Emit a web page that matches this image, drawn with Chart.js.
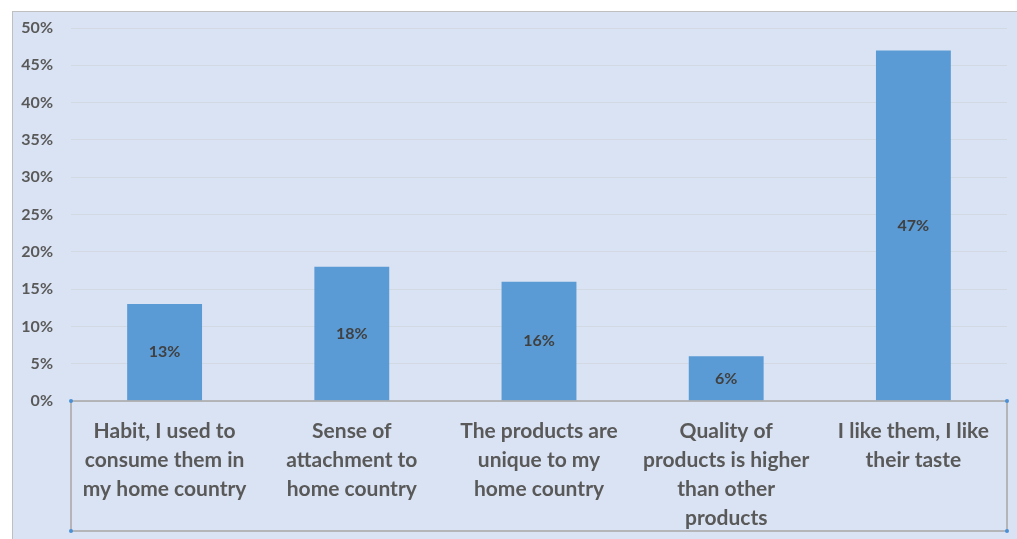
<!DOCTYPE html>
<html>
<head>
<meta charset="utf-8">
<script src="https://cdn.jsdelivr.net/npm/chart.js@4"></script>
<style>
  body { margin:0; background:#ffffff; }
  #frame {
    position:absolute; left:12px; top:11px; width:1005px; height:528px;
    background:#dae3f3; border-left:1px solid #bfbfbf; border-top:1px solid #bfbfbf;
    box-sizing:border-box;
  }
</style>
</head>
<body>
<div id="frame"><canvas id="c" width="1004" height="527"></canvas></div>
<script>
// categories and values
let categories = [
  ["Habit, I used to", "consume them in", "my home country"],
  ["Sense of", "attachment to", "home country"],
  ["The products are", "unique to my", "home country"],
  ["Quality of", "products is higher", "than other", "products"],
  ["I like them, I like", "their taste"]
];

let values = [13, 18, 16, 6, 47];

let yTicks = [0, 5, 10, 15, 20, 25, 30, 35, 40, 45, 50];


let labelFont = "Lato, 'Open Sans', sans-serif";


// value labels in the middle of each bar
let barLabels = {
  id: "barLabels",
  afterDatasetsDraw(chart){
    let ctx = chart.ctx;
    let meta = chart.getDatasetMeta(0);
    ctx.save();
    ctx.font = "bold 16px " + labelFont;
    ctx.fillStyle = "#404040";
    ctx.textAlign = "center";
    ctx.textBaseline = "middle";
    meta.data.forEach((bar, i) => {
      let mid = (bar.y + bar.base) / 2;
      ctx.fillText(values[i] + "%", bar.x, mid);
    });
    ctx.restore();
  }
};


// selected category-axis box like in the original
let axisBox = {
  id: "axisBox",
  afterDraw(chart){
    let ctx = chart.ctx;
    let x = chart.scales.x;
    let left = chart.chartArea.left;
    let right = chart.chartArea.right;
    let top = x.top;
    let bottom = x.bottom;
    ctx.save();
    ctx.strokeStyle = "#a6a6a6";
    ctx.lineWidth = 1.5;
    ctx.strokeRect(left, top, right - left, bottom - top);
    ctx.fillStyle = "#4a90d9";
    [[left, top], [right, top], [left, bottom], [right, bottom]].forEach(p => {
      ctx.beginPath();
      ctx.arc(p[0], p[1], 2, 0, Math.PI * 2);
      ctx.fill();
    });
    ctx.restore();
  }
};


new Chart(
  document.getElementById("c"),
  {
    type: "bar",
    data: {
      labels: categories,
      datasets: [{
        data: values,
        backgroundColor: "#5b9bd5",
        barPercentage: 0.4,
        categoryPercentage: 1
      }]
    },
    options: {
      responsive: false,
      animation: false,
      layout: { padding: { top: 16, right: 10, bottom: 8, left: 0 } },
      plugins: {
        legend: { display: false },
        tooltip: { enabled: false }
      },
      scales: {
        y: {
          min: 0,
          max: 50,
          afterBuildTicks(scale){
            scale.ticks = yTicks.map(v => ({ value: v }));
          },
          afterFit(scale){
            scale.width = 58;
            scale.paddingTop = 0;
            scale.paddingBottom = 0;
          },
          border: { display: false },
          grid: { color: "#d3d9e3", drawTicks: false },
          ticks: {
            padding: 18,
            color: "#595959",
            font: { family: labelFont, size: 16, weight: "bold" },
            callback: v => v + "%"
          }
        },
        x: {
          afterFit(scale){ scale.height = 130; },
          border: { display: false },
          grid: { display: false },
          ticks: {
            padding: 8,
            maxRotation: 0,
            autoSkip: false,
            color: "#595959",
            font: { family: labelFont, size: 21, weight: "bold", lineHeight: 1.38 }
          }
        }
      }
    },
    plugins: [barLabels, axisBox]
  }
);
</script>
</body>
</html>
